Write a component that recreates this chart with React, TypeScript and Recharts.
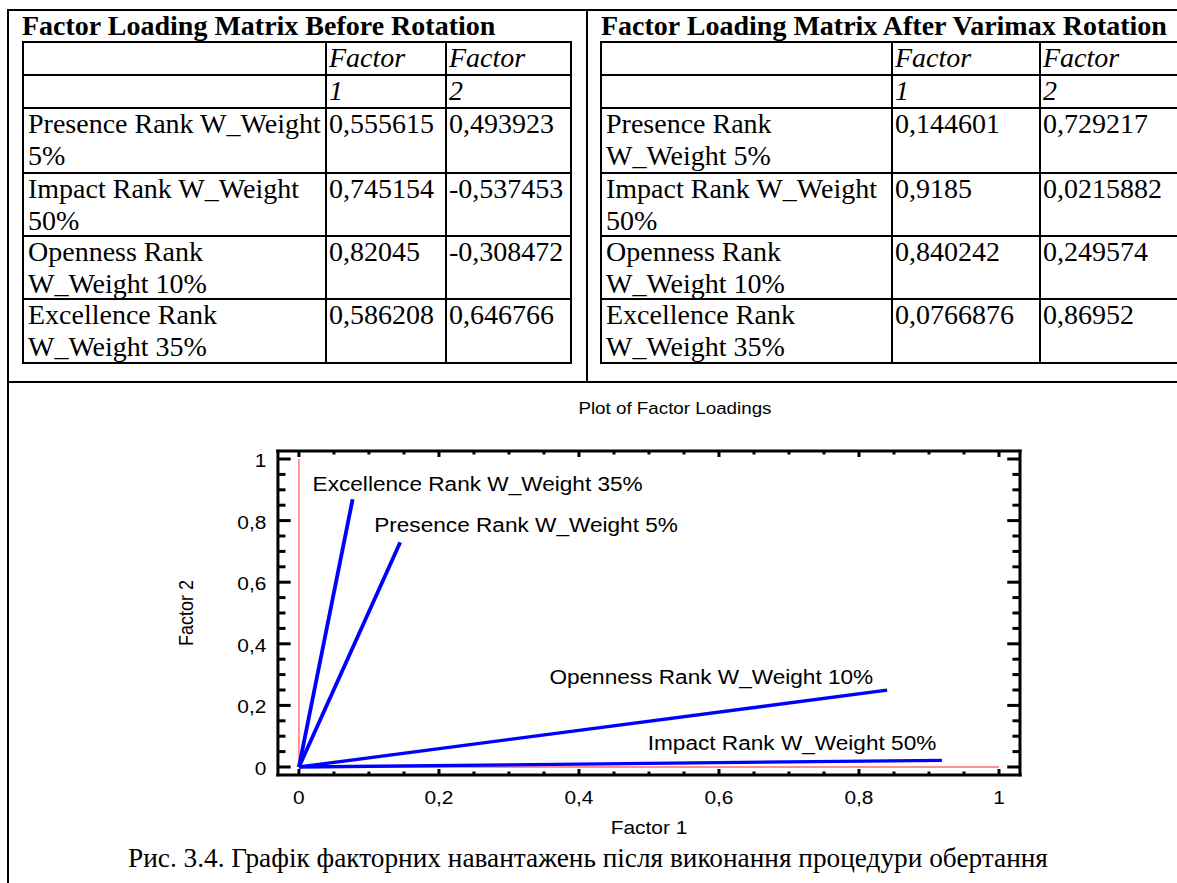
import React from 'react';
import { ScatterChart, Scatter, XAxis, YAxis, Label } from 'recharts';

// ---------- data ----------
const variableNames = [
  'Presence Rank W_Weight 5%',
  'Impact Rank W_Weight 50%',
  'Openness Rank W_Weight 10%',
  'Excellence Rank W_Weight 35%',
];
const beforeFactor1 = [0.555615, 0.745154, 0.82045, 0.586208];
const beforeFactor2 = [0.493923, -0.537453, -0.308472, 0.646766];
const afterFactor1 = [0.144601, 0.9185, 0.840242, 0.0766876];
const afterFactor2 = [0.729217, 0.0215882, 0.249574, 0.86952];
const headerRow1 = ['', 'Factor', 'Factor'];
const headerRow2 = ['', '1', '2'];
const axisTicks = [0, 0.05, 0.1, 0.15, 0.2, 0.25, 0.3, 0.35, 0.4, 0.45, 0.5, 0.55, 0.6, 0.65, 0.7, 0.75, 0.8, 0.85, 0.9, 0.95, 1];
const majorTicks = [0, 0.2, 0.4, 0.6, 0.8, 1];
const xDomain = [-0.03, 1.03];
const yDomain = [-0.026, 1.026];
const verticalRef = [{ x: 0, y: 0 }, { x: 0, y: 1 }];
const horizontalRef = [{ x: 0, y: 0 }, { x: 1, y: 0 }];
const tableTitleBefore = 'Factor Loading Matrix Before Rotation';
const tableTitleAfter = 'Factor Loading Matrix After Varimax Rotation';
const chartTitle = 'Plot of Factor Loadings';
const xTitle = 'Factor 1';
const yTitle = 'Factor 2';
const caption = 'Рис. 3.4. Графік факторних навантажень після виконання процедури обертання';

// ---------- layout (kept separate from data) ----------
const labelPlacement = [
  { anchor: 'start', dx: -22.4, dy: -10 },
  { anchor: 'end', dx: -4.8, dy: -10 },
  { anchor: 'end', dx: -12, dy: -6 },
  { anchor: 'start', dx: -34.5, dy: -8 },
];
const S = 1.16;
const CHART_LEFT = 100;
const CHART_TOP = 383;
const CW = 928;
const CH = 500;
const SERIF = "'Liberation Serif', 'Times New Roman', serif";
const SANS = "'Liberation Sans', Arial, sans-serif";

const fmt = (v: number) => String(v).replace('.', ',');
const isMajor = (v: number) => majorTicks.some((m) => Math.abs(m - v) < 1e-9);

function BottomTick(props: any) {
  const { x, y, payload } = props;
  const m = isMajor(payload.value);
  return (
    <g>
      <line x1={x} x2={x} y1={y} y2={y - (m ? 6 : 3.5)} stroke="#000" strokeWidth={2.6} />
      {m && (
        <text x={x} y={y + 29} textAnchor="middle" fontSize={18} fontFamily={SANS} fill="#000">
          {fmt(payload.value)}
        </text>
      )}
    </g>
  );
}
function TopTick(props: any) {
  const { x, y, payload } = props;
  const m = isMajor(payload.value);
  return <line x1={x} x2={x} y1={y} y2={y + (m ? 6 : 3.5)} stroke="#000" strokeWidth={2.6} />;
}
function LeftTick(props: any) {
  const { x, y, payload } = props;
  const m = isMajor(payload.value);
  return (
    <g>
      <line x1={x} x2={x + (m ? 11 : 6.5)} y1={y} y2={y} stroke="#000" strokeWidth={3} />
      {m && (
        <text x={x - 10} y={y + 8} textAnchor="end" fontSize={18} fontFamily={SANS} fill="#000">
          {fmt(payload.value)}
        </text>
      )}
    </g>
  );
}
function RightTick(props: any) {
  const { x, y, payload } = props;
  const m = isMajor(payload.value);
  return <line x1={x} x2={x - (m ? 11 : 6.5)} y1={y} y2={y} stroke="#000" strokeWidth={3} />;
}

const endShape = (props: any) => {
  const { cx, cy, payload } = props;
  if (!payload || payload.labelIndex === undefined) return <g />;
  const p = labelPlacement[payload.labelIndex];
  return (
    <text x={cx + p.dx} y={cy + p.dy} textAnchor={p.anchor as any} fontSize={19.5} fontFamily={SANS} fill="#000">
      {variableNames[payload.labelIndex]}
    </text>
  );
};
const noShape = () => <g />;

function MatrixTable({ cols, rows, title, titleLeft, f1, f2 }: any) {
  const items: any[] = [];
  rows.forEach((ry: number, i: number) =>
    items.push(
      <div key={'h' + i} style={{ position: 'absolute', left: cols[0] - 1, top: ry - 1, width: cols[3] - cols[0] + 2, height: 2, background: '#000' }} />
    )
  );
  cols.forEach((cx: number, i: number) =>
    items.push(
      <div key={'v' + i} style={{ position: 'absolute', left: cx - 1, top: rows[0] - 1, width: 2, height: rows[rows.length - 1] - rows[0] + 2, background: '#000' }} />
    )
  );
  const cellRows = [headerRow1, headerRow2, ...variableNames.map((n, i) => [n, fmt(f1[i]), fmt(f2[i])])];
  cellRows.forEach((r: string[], ri: number) =>
    r.forEach((t: string, ci: number) => {
      const pad = ci === 0 ? 5 : 3;
      items.push(
        <div
          key={'c' + ri + '_' + ci}
          style={{
            position: 'absolute',
            left: cols[ci] + pad,
            top: rows[ri],
            width: cols[ci + 1] - cols[ci] - pad,
            fontFamily: SERIF,
            fontSize: 28,
            lineHeight: '32px',
            fontStyle: ri < 2 ? 'italic' : 'normal',
            color: '#000',
            whiteSpace: 'normal',
          }}
        >
          {t}
        </div>
      );
    })
  );
  items.push(
    <div key="title" style={{ position: 'absolute', left: titleLeft, top: 9.6, fontFamily: SERIF, fontSize: 28, fontWeight: 'bold', lineHeight: '32px', whiteSpace: 'nowrap', color: '#000' }}>
      {title}
    </div>
  );
  return <>{items}</>;
}

export default function App() {
  const rowsY = [42, 75, 108, 173, 236, 299, 363];
  return (
    <div style={{ position: 'absolute', left: 0, top: 0, width: 1177, height: 883, overflow: 'hidden', background: '#fff' }}>
      {/* frame lines */}
      <div style={{ position: 'absolute', left: 7, top: 9, width: 1200, height: 2, background: '#000' }} />
      <div style={{ position: 'absolute', left: 7, top: 9, width: 2, height: 900, background: '#000' }} />
      <div style={{ position: 'absolute', left: 586, top: 9, width: 2, height: 374, background: '#000' }} />
      <div style={{ position: 'absolute', left: 7, top: 381, width: 1200, height: 2, background: '#000' }} />

      <MatrixTable cols={[23, 326, 446, 571]} rows={rowsY} title={tableTitleBefore} titleLeft={22} f1={beforeFactor1} f2={beforeFactor2} />
      <MatrixTable cols={[601, 892, 1040, 1180]} rows={rowsY} title={tableTitleAfter} titleLeft={601} f1={afterFactor1} f2={afterFactor2} />

      <div style={{ position: 'absolute', left: 0, top: 842, width: 1176, textAlign: 'center', fontFamily: SERIF, fontSize: 27.3, lineHeight: '32px', color: '#000', whiteSpace: 'nowrap' }}>
        {caption}
      </div>

      <div style={{ position: 'absolute', left: CHART_LEFT, top: CHART_TOP, width: CW, height: CH, transform: `scaleX(${S})`, transformOrigin: '0 0' }}>
        <ScatterChart width={CW} height={CH} margin={{ top: 58, right: 124.9, bottom: 48, left: 93.4 }}>
          <XAxis
            xAxisId="b"
            dataKey="x"
            type="number"
            orientation="bottom"
            domain={xDomain}
            allowDataOverflow
            ticks={axisTicks}
            interval={0}
            height={60}
            tickSize={0}
            tickMargin={0}
            tickLine={false}
            axisLine={{ stroke: '#000', strokeWidth: 3, strokeLinecap: 'square' }}
            tick={<BottomTick />}
          >
            <Label
              content={(p: any) => {
                const vb = p.viewBox;
                return (
                  <text x={vb.x + vb.width / 2} y={vb.y + 59.5} textAnchor="middle" fontSize={18} fontFamily={SANS} fill="#000">
                    {xTitle}
                  </text>
                );
              }}
            />
          </XAxis>
          <XAxis
            xAxisId="t"
            dataKey="x"
            type="number"
            orientation="top"
            domain={xDomain}
            allowDataOverflow
            ticks={axisTicks}
            interval={0}
            height={10}
            tickSize={0}
            tickMargin={0}
            tickLine={false}
            axisLine={{ stroke: '#000', strokeWidth: 3, strokeLinecap: 'square' }}
            tick={<TopTick />}
          >
            <Label
              content={(p: any) => {
                const vb = p.viewBox;
                return (
                  <text x={vb.x + vb.width / 2 + 22.4} y={vb.y - 27} textAnchor="middle" fontSize={16.2} fontFamily={SANS} fill="#000">
                    {chartTitle}
                  </text>
                );
              }}
            />
          </XAxis>
          <YAxis
            yAxisId="l"
            dataKey="y"
            type="number"
            orientation="left"
            domain={yDomain}
            allowDataOverflow
            ticks={axisTicks}
            interval={0}
            width={60}
            tickSize={0}
            tickMargin={0}
            tickLine={false}
            axisLine={{ stroke: '#000', strokeWidth: 2.6, strokeLinecap: 'square' }}
            tick={<LeftTick />}
          >
            <Label
              content={(p: any) => {
                const vb = p.viewBox;
                const cx = vb.x - 20;
                const cy = vb.y + vb.height / 2;
                return (
                  <text x={cx} y={cy} transform={`rotate(-90, ${cx}, ${cy})`} textAnchor="middle" dominantBaseline="central" fontSize={18} fontFamily={SANS} fill="#000">
                    {yTitle}
                  </text>
                );
              }}
            />
          </YAxis>
          <YAxis
            yAxisId="r"
            dataKey="y"
            type="number"
            orientation="right"
            domain={yDomain}
            allowDataOverflow
            ticks={axisTicks}
            interval={0}
            width={10}
            tickSize={0}
            tickMargin={0}
            tickLine={false}
            axisLine={{ stroke: '#000', strokeWidth: 2.6, strokeLinecap: 'square' }}
            tick={<RightTick />}
          />
          <Scatter xAxisId="b" yAxisId="l" data={verticalRef} line={{ stroke: '#ff6b6b', strokeWidth: 1.2 }} shape={noShape} isAnimationActive={false} />
          <Scatter xAxisId="b" yAxisId="l" data={horizontalRef} line={{ stroke: '#ff6b6b', strokeWidth: 1.6 }} shape={noShape} isAnimationActive={false} />
          {variableNames.map((n, i) => (
            <Scatter
              key={n}
              xAxisId="b"
              yAxisId="l"
              data={[{ x: 0, y: 0 }, { x: afterFactor1[i], y: afterFactor2[i], labelIndex: i }]}
              line={{ stroke: '#0000ff', strokeWidth: 3.3 }}
              shape={endShape}
              isAnimationActive={false}
            />
          ))}
        </ScatterChart>
      </div>
    </div>
  );
}
